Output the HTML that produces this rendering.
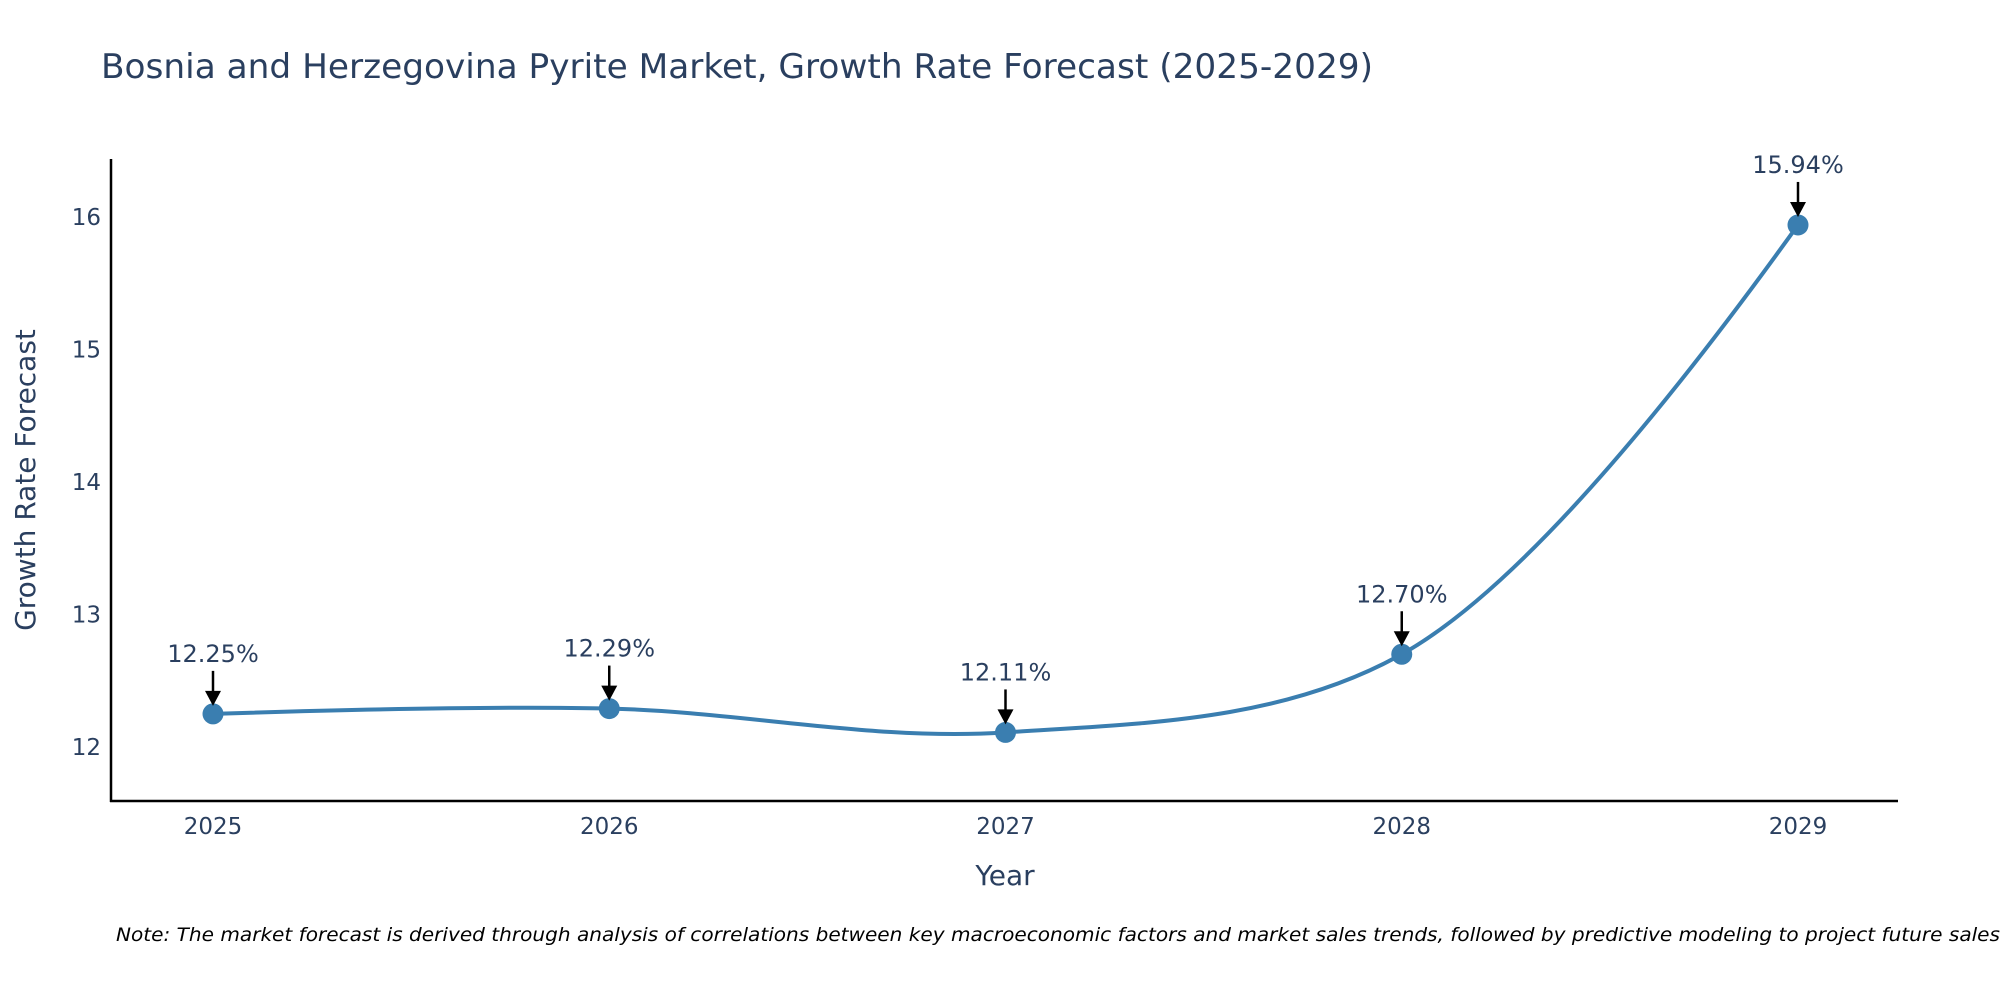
<!DOCTYPE html>
<html><head><meta charset="utf-8"><style>
html,body{margin:0;padding:0;background:#fff;}
svg text{font-family:"DejaVu Sans","Liberation Sans",sans-serif;}
</style></head><body>
<svg id="chart" width="2000" height="1000" viewBox="0 0 2000 1000" xmlns="http://www.w3.org/2000/svg">
<rect width="2000" height="1000" fill="#fff"/>
<text x="101" y="78" font-size="34" fill="#2a3f5f" textLength="1272" lengthAdjust="spacingAndGlyphs">Bosnia and Herzegovina Pyrite Market, Growth Rate Forecast (2025-2029)</text>
<g id="ticks"></g>
<line x1="111" y1="159" x2="111" y2="802" stroke="#000" stroke-width="2.5"/>
<line x1="110" y1="801" x2="1898" y2="801" stroke="#000" stroke-width="2.5"/>
<path id="line" fill="none" stroke="#3a7eb0" stroke-width="4"/>
<g id="marks"></g>
<text x="1005" y="885" font-size="28" fill="#2a3f5f" text-anchor="middle">Year</text>
<text transform="translate(35,480) rotate(-90)" font-size="28" fill="#2a3f5f" text-anchor="middle">Growth Rate Forecast</text>
<text x="116" y="941" font-size="19" font-style="italic" fill="#000" textLength="1884" lengthAdjust="spacingAndGlyphs">Note: The market forecast is derived through analysis of correlations between key macroeconomic factors and market sales trends, followed by predictive modeling to project future sales</text>
</svg>
<script>
const years = [2025, 2026, 2027, 2028, 2029];
const growthValues = [12.25, 12.29, 12.11, 12.70, 15.94];
const valueLabels = ["12.25%", "12.29%", "12.11%", "12.70%", "15.94%"];
const yTicks = [12, 13, 14, 15, 16];

const NS = "http://www.w3.org/2000/svg";
function xScale(v){ return 213 + (v - 2025) * 396.25; }
function yScale(v){ return 747 - (v - 12) * 132.5; }
function mk(tag, attrs, parent){ const e=document.createElementNS(NS,tag); for(const k in attrs) e.setAttribute(k,attrs[k]); parent.appendChild(e); return e; }

const ticks = document.getElementById('ticks');
yTicks.forEach(t=>{
  const e = mk('text',{x:101,y:yScale(t)+8,'font-size':23,fill:'#2a3f5f','text-anchor':'end'},ticks);
  
  
  e.textContent = t;
});
years.forEach(y=>{
  const e = mk('text',{x:xScale(y),y:834,'font-size':23,fill:'#2a3f5f','text-anchor':'middle'},ticks);
  
  
  e.textContent = y;
});

const pts = years.map((y,i)=>[xScale(y), yScale(growthValues[i])]);
function makeTangent(p0,p1,p2,s){
  const d1x=p0[0]-p1[0], d1y=p0[1]-p1[1], d2x=p2[0]-p1[0], d2y=p2[1]-p1[1];
  const d1a=Math.pow(d1x*d1x+d1y*d1y,0.25), d2a=Math.pow(d2x*d2x+d2y*d2y,0.25);
  const nx=(d2a*d2a*d1x-d1a*d1a*d2x)*s, ny=(d2a*d2a*d1y-d1a*d1a*d2y)*s;
  const den1=3*d2a*(d1a+d2a), den2=3*d1a*(d1a+d2a);
  return [[p1[0]+nx/den1,p1[1]+ny/den1],[p1[0]-nx/den2,p1[1]-ny/den2]];
}
const tg=[];
for(let i=1;i<pts.length-1;i++) tg.push(makeTangent(pts[i-1],pts[i],pts[i+1],1));
const P=p=>p[0].toFixed(2)+','+p[1].toFixed(2);
let d='M'+P(pts[0])+'Q'+P(tg[0][0])+' '+P(pts[1]);
for(let i=2;i<pts.length-1;i++) d+='C'+P(tg[i-2][1])+' '+P(tg[i-1][0])+' '+P(pts[i]);
d+='Q'+P(tg[tg.length-1][1])+' '+P(pts[pts.length-1]);
document.getElementById('line').setAttribute('d',d);

const marks=document.getElementById('marks');
pts.forEach((p,i)=>{
  const c=mk('circle',{cx:p[0],cy:p[1],r:10.5,fill:'#3a7eb0'},marks);
  
  
  const l=mk('line',{x1:p[0],y1:p[1]-43,x2:p[0],y2:p[1]-20,stroke:'#000','stroke-width':2.5},marks);
  
  
  const h=mk('polygon',{points:`${p[0]-8},${p[1]-23} ${p[0]+8},${p[1]-23} ${p[0]},${p[1]-8}`,fill:'#000'},marks);
  
  
  const t=mk('text',{x:p[0],y:p[1]-52,'font-size':24,fill:'#2a3f5f','text-anchor':'middle'},marks);
  
  
  t.textContent=valueLabels[i];
});
</script>
</body></html>
